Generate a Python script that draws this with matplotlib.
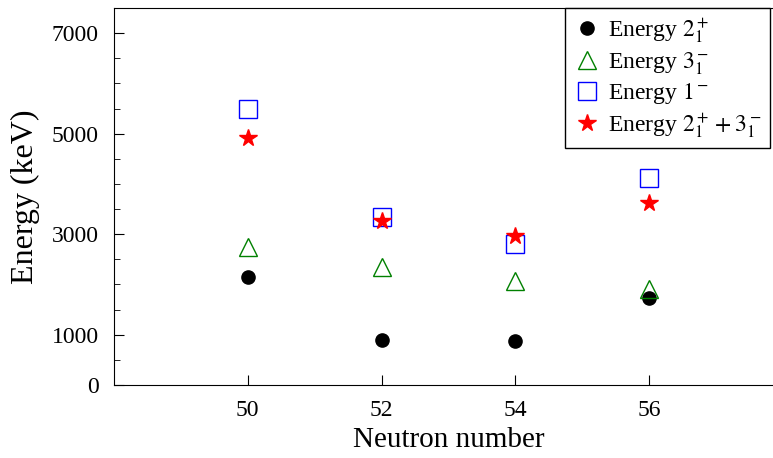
import numpy as np
import matplotlib.pyplot as plt
from matplotlib.ticker import MultipleLocator, FixedLocator

# === DATA ===
neutrons = [50, 52, 54, 56]
e_2plus = [2154, 895, 881, 1723]
e_3minus = [2750, 2340, 2065, 1909]
e_1minus = [5487, 3346, 2810, 4109]
e_sum = [4904, 3266, 2962, 3613]

plt.rcParams['font.family'] = ['Liberation Serif', 'DejaVu Serif']
plt.rcParams['mathtext.fontset'] = 'stix'

fig = plt.figure(figsize=(7.73, 4.58), dpi=100)
ax = fig.add_axes([114 / 773, 1 - 385 / 458, (783 - 114) / 773, (385 - 8) / 458])

ax.plot(neutrons, e_2plus, 'o', color='black', ms=9.5, label=r'Energy $2_1^+$')
ax.plot(neutrons, e_3minus, '^', mfc='none', mec='green', mew=1.0, ms=13,
        label=r'Energy $3_1^-$')
ax.plot(neutrons, e_1minus, 's', mfc='none', mec='blue', mew=1.0, ms=13,
        label=r'Energy $1^-$')
ax.plot(neutrons, e_sum, '*', color='red', ms=13, label=r'Energy $2_1^+ + 3_1^-$')

ax.set_xlim(48, 58)
ax.set_ylim(0, 7500)
ax.set_xticks(neutrons)
ax.yaxis.set_major_locator(FixedLocator([0, 1000, 3000, 5000, 7000]))
ax.yaxis.set_minor_locator(MultipleLocator(500))
ax.tick_params(axis='both', which='both', direction='in', labelsize=17,
               top=False, right=False)
ax.tick_params(axis='both', which='major', length=7, pad=11)
ax.tick_params(axis='y', which='minor', length=4)
ax.tick_params(axis='x', which='minor', bottom=False)
ax.spines['right'].set_visible(False)

ax.set_xlabel('Neutron number', fontsize=21, labelpad=4)
ax.set_ylabel('Energy (keV)', fontsize=23, labelpad=8)

ax.legend(loc='upper right', bbox_to_anchor=(770 / 773, 1 - 8 / 458),
          bbox_transform=fig.transFigure, borderaxespad=0, fontsize=17,
          frameon=True, fancybox=False, edgecolor='black', framealpha=1,
          handletextpad=0.3, labelspacing=0.2, borderpad=0.35,
          handlelength=1.2)

fig.savefig('out.png', dpi=100)
